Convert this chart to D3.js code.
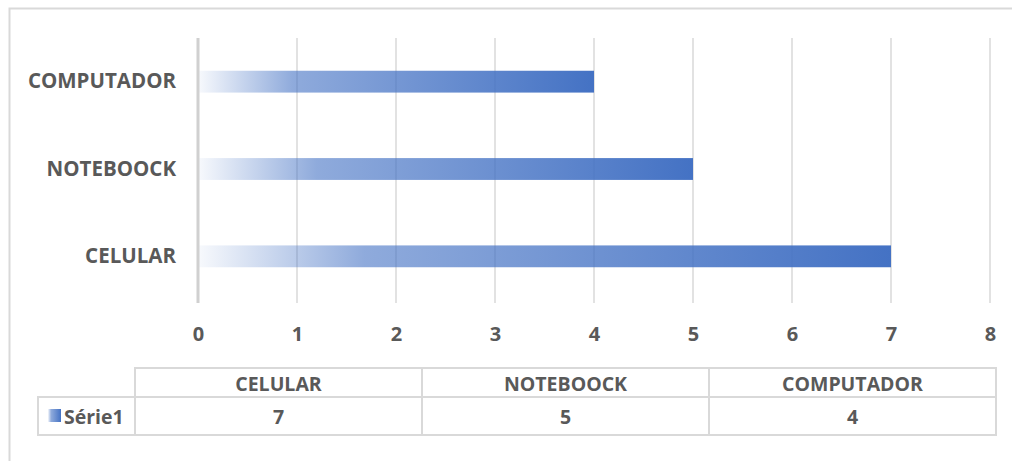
<!DOCTYPE html>
<html>
<head>
<meta charset="utf-8">
<script src="https://cdn.jsdelivr.net/npm/d3@7"></script>
<style>
  body { margin: 0; background: #fff; }
  text { font-family: "Open Sans", sans-serif; font-weight: bold; fill: #595959; }
</style>
</head>
<body>
<script>
// data
const categories = ["CELULAR", "NOTEBOOCK", "COMPUTADOR"];
const serie1 = [7, 5, 4];
const seriesName = "Série1";
const xTicks = [0, 1, 2, 3, 4, 5, 6, 7, 8];

var show_chart = () => {
  const W = 1012, H = 461;
  const margin = {top: 38, left: 198, right: 22, bottom: 161};
  const width = 990 - margin.left, height = 300 - margin.top;

  const svg = d3.select("body").append("svg").attr("width", W).attr("height", H);

  // outer frame
  svg.append("path")
    .attr("d", `M9.5,${H} V8.5 H${W}`)
    .attr("fill", "none").attr("stroke", "#d9d9d9").attr("stroke-width", 2);

  const defs = svg.append("defs");
  const grad = defs.append("linearGradient").attr("id", "barGrad")
    .attr("x1", "0%").attr("x2", "100%").attr("y1", "0%").attr("y2", "0%");
  grad.append("stop").attr("offset", "0%").attr("stop-color", "#4472C4").attr("stop-opacity", 0.04);
  grad.append("stop").attr("offset", "24%").attr("stop-color", "#4472C4").attr("stop-opacity", 0.6);
  grad.append("stop").attr("offset", "100%").attr("stop-color", "#4472C4").attr("stop-opacity", 1);

  const g = svg.append("g").attr("transform", `translate(${margin.left},${margin.top})`);

  const x = d3.scaleLinear().domain([0, 8]).range([0, width]);
  const y = d3.scaleBand().domain(categories.slice().reverse()).range([0, height]).paddingInner(0.75).paddingOuter(0.375);

  // gridlines
  g.append("g").selectAll("line").data(xTicks.slice(1)).join("line")
    .attr("x1", d => x(d)).attr("x2", d => x(d))
    .attr("y1", 0).attr("y2", height + 3)
    .attr("stroke", "#d9d9d9").attr("stroke-width", 1.5);

  // bars
  g.selectAll("rect.bar").data(categories).join("rect")
    .attr("class", "bar")
    .attr("x", x(0))
    .attr("y", d => y(d))
    .attr("width", (d, i) => x(serie1[i]) - x(0))
    .attr("height", y.bandwidth())
    .attr("fill", "url(#barGrad)");

  // value axis line at 0
  g.append("line").attr("x1", x(0)).attr("x2", x(0)).attr("y1", 0).attr("y2", height + 3)
    .attr("stroke", "#d0d0d0").attr("stroke-width", 3);

  // x tick labels
  const xa = g.append("g").attr("transform", `translate(0,${height})`)
    .call(d3.axisBottom(x).tickValues(xTicks).tickSize(0).tickPadding(27).tickFormat(d3.format("d")));
  xa.select(".domain").remove();
  xa.selectAll("text").style("font-size", "20px").attr("fill", "#595959");

  // category labels
  const ya = g.append("g").call(d3.axisLeft(y).tickSize(0).tickPadding(22));
  ya.select(".domain").remove();
  ya.selectAll("text").style("font-size", "20.5px").attr("fill", "#595959");

  // data table
  const tTop = 368, tMid = 397, tBot = 435, legL = 38, colL = 135, colR = 996;
  const cx = d3.scaleBand().domain(categories).range([colL, colR]);
  const tbl = svg.append("g").attr("stroke", "#d9d9d9").attr("stroke-width", 2).attr("fill", "none");
  tbl.append("rect").attr("x", colL).attr("y", tTop).attr("width", colR - colL).attr("height", tBot - tTop);
  tbl.append("rect").attr("x", legL).attr("y", tMid).attr("width", colR - legL).attr("height", tBot - tMid);
  tbl.selectAll("line.col").data(categories.slice(1)).join("line")
    .attr("x1", d => cx(d)).attr("x2", d => cx(d)).attr("y1", tTop).attr("y2", tBot);

  svg.selectAll("text.hdr").data(categories).join("text")
    .attr("class", "hdr")
    .attr("x", d => cx(d) + cx.bandwidth() / 2).attr("y", (tTop + tMid) / 2 + 1)
    .attr("text-anchor", "middle").attr("dominant-baseline", "central")
    .style("font-size", "19.5px").text(d => d);
  svg.selectAll("text.val").data(serie1).join("text")
    .attr("class", "val")
    .attr("x", (d, i) => cx(categories[i]) + cx.bandwidth() / 2).attr("y", (tMid + tBot) / 2)
    .attr("text-anchor", "middle").attr("dominant-baseline", "central")
    .style("font-size", "19.5px").text(d => d);

  // legend key
  svg.append("rect").attr("x", 48).attr("y", 409).attr("width", 13).attr("height", 13).attr("fill", "url(#barGrad)");
  svg.append("text").attr("x", 64).attr("y", (tMid + tBot) / 2)
    .attr("dominant-baseline", "central").style("font-size", "19.5px").text(seriesName);
}
show_chart();
</script>
</body>
</html>
